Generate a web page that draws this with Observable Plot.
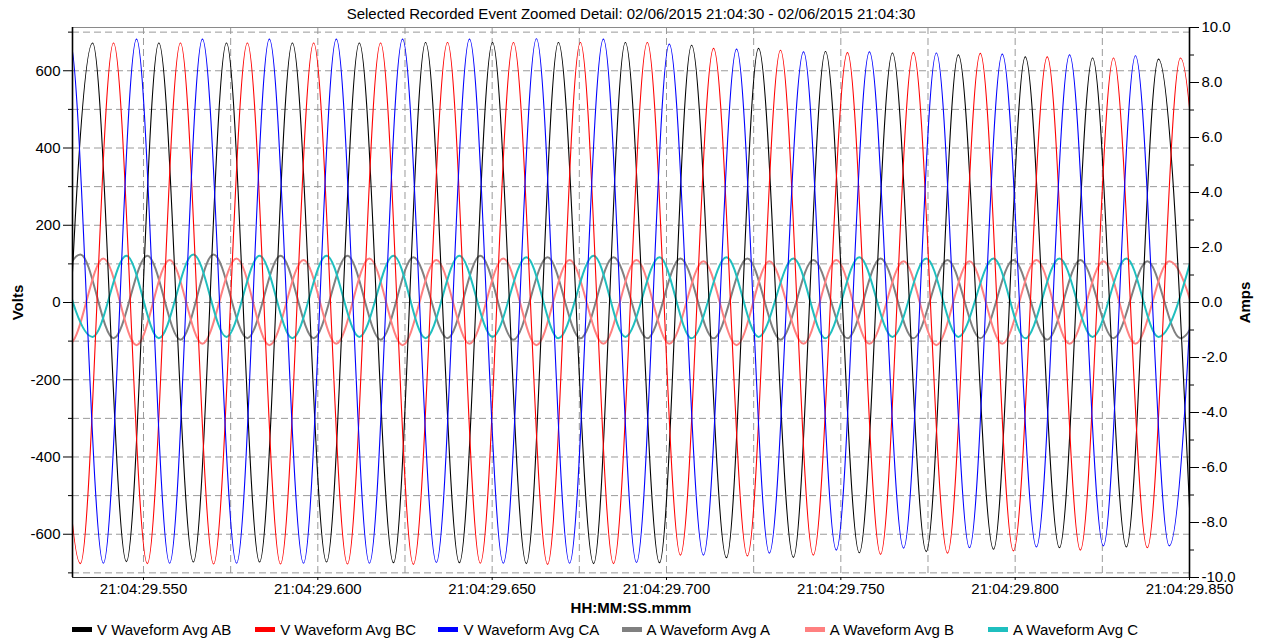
<!DOCTYPE html>
<html><head><meta charset="utf-8">
<script src="https://cdn.jsdelivr.net/npm/d3@7"></script>
<script src="https://cdn.jsdelivr.net/npm/@observablehq/plot@0.6"></script>
<style>
body{margin:0;background:#fff;font-family:"Liberation Sans",Arial,sans-serif;}
#wrap{position:relative;width:1264px;height:644px;overflow:hidden;}
#legend{position:absolute;top:620px;left:0;width:1264px;height:20px;font-size:15px;color:#000;}
.item{position:absolute;top:0;height:20px;line-height:20px;white-space:nowrap;padding-left:25px;}
.sw{position:absolute;left:0;top:7px;width:20px;height:5px;}
</style></head><body>
<div id="wrap"><div id="chart"></div><div id="legend"></div></div>
<script>
// ---- Data (time = ms after 21:04:29.000) ----
const title = "Selected Recorded Event Zoomed Detail: 02/06/2015 21:04:30 - 02/06/2015 21:04:30";
const seriesNames = ["V Waveform Avg AB","V Waveform Avg BC","V Waveform Avg CA","A Waveform Avg A","A Waveform Avg B","A Waveform Avg C"];
const seriesColors = ["#000000","#ff0000","#0000ff","#808080","#ff8080","#1fbfbf"];

// V AB: alternating trough/peak extrema
const vabT = [525.9,535.4,545.1,554.4,564.3,573.8,583.3,592.7,602.5,611.9,621.7,630.9,640.6,650.1,659.8,669.0,679.1,688.2,698.0,707.2,717.2,726.4,736.4,745.6,755.3,764.8,774.5,783.7,793.8,802.9,812.7,822.2,831.9,841.1,850.5];
const vabV = [-671,672,-671,672,-672,672,-672,672,-672,672,-674,673,-674,673,-676,673,-676,673,-674,666,-661,658,-660,650,-648,646,-645,641,-639,636,-635,633,-633,630,-630];
// V BC
const vbcT = [522.3,531.9,541.4,551.1,560.6,570.1,579.8,589.3,598.8,608.5,618.0,627.4,637.2,646.6,656.1,665.9,675.3,684.8,694.5,704.0,713.5,723.2,732.7,742.1,751.9,761.4,770.8,780.6,790.0,799.5,809.2,818.7,828.2,837.9,847.4,856.9];
const vbcV = [672,-676,672,-676,672,-677,672,-677,672,-677,672,-678,673,-675,673,-678,673,-676,673,-654,658,-656,653,-654,647,-652,647,-649,645,-643,636,-641,633,-635,633,-635];
// V CA
const vcaT = [519.3,528.8,538.5,548.0,557.5,566.9,576.7,586.1,595.9,605.3,614.8,624.3,634.0,643.5,653.2,662.7,672.2,681.9,691.4,700.8,710.6,720.1,729.5,739.3,748.7,758.2,768.0,777.4,786.9,796.3,806.1,815.6,825.3,834.5,844.2,853.7];
const vcaV = [-675,682,-675,682,-675,682,-675,682,-675,682,-675,682,-673,682,-675,683,-675,682,-673,669,-654,656,-649,649,-641,649,-636,646,-635,643,-633,641,-630,639,-630,639];

// Currents (amps): extrema fall at the same instants as the voltage extrema above
const iaT = vbcT;
const iaV = [-1.3,1.75,-1.3,1.7,-1.35,1.75,-1.3,1.7,-1.3,1.7,-1.35,1.65,-1.3,1.7,-1.35,1.65,-1.3,1.65,-1.3,1.6,-1.3,1.6,-1.35,1.55,-1.3,1.6,-1.3,1.55,-1.3,1.55,-1.35,1.55,-1.3,1.5,-1.3,1.5];
const ibT = vcaT;
const ibV = [1.55,-1.5,1.6,-1.55,1.55,-1.5,1.6,-1.55,1.55,-1.5,1.6,-1.55,1.55,-1.5,1.6,-1.55,1.55,-1.5,1.55,-1.5,1.5,-1.55,1.5,-1.5,1.55,-1.5,1.5,-1.55,1.5,-1.5,1.55,-1.5,1.5,-1.5,1.5,-1.5];
const icT = vabT;
const icV = [1.7,-1.25,1.7,-1.3,1.75,-1.25,1.7,-1.3,1.7,-1.25,1.7,-1.3,1.7,-1.25,1.65,-1.3,1.7,-1.25,1.65,-1.3,1.65,-1.25,1.6,-1.3,1.65,-1.25,1.6,-1.25,1.6,-1.3,1.6,-1.25,1.6,-1.25,1.6];

// Axes / ticks
const xDomain = [529.64, 850];
const voltDomain = [-712, 712];
const ampDomain = [-10, 10];
const timeTicks = [550,600,650,700,750,800,850];
const timeGrid = [550,575,600,625,650,675,700,725,750,775,800,825];
const voltTicks = [600,400,200,0,-200,-400,-600];
const voltMinor = [700,500,300,100,-100,-300,-500,-700];
const voltGrid = [700,600,500,400,300,200,100,0,-100,-200,-300,-400,-500,-600,-700];
const ampTicks = [10,8,6,4,2,0,-2,-4,-6,-8,-10];
const ampMinor = [9,7,5,3,1,-1,-3,-5,-7,-9];

// amps are drawn on the volt scale via the ratio of the two axis ranges
const k = voltDomain[1] / ampDomain[1];

const rows = (T, V, f = 1) => T.map((t, i) => ({t, v: V[i] == null ? NaN : V[i] * f})).filter(d => !isNaN(d.v));

const volts = [[vabT,vabV],[vbcT,vbcV],[vcaT,vcaV]];
const amps = [[iaT,iaV],[ibT,ibV],[icT,icV]];

const gridStyle = {stroke: "#9a9a9a", strokeWidth: 1, strokeDasharray: "7,4"};

const chart = Plot.plot({
  width: 1264, height: 618,
  marginTop: 27, marginLeft: 72, marginRight: 75, marginBottom: 41,
  style: {fontFamily: "'Liberation Sans', Arial, sans-serif", fontSize: "15px", background: "white", color: "#000", overflow: "visible"},
  x: {domain: xDomain},
  y: {domain: voltDomain},
  marks: [
    Plot.ruleY(voltGrid, gridStyle),
    Plot.ruleX(timeGrid, gridStyle),
    Plot.ruleY([voltDomain[1]], {stroke: "#8a8a8a"}),
    ...amps.map(([T, V], i) => Plot.line(rows(T, V, k), {x: "t", y: "v", stroke: seriesColors[3 + i], strokeWidth: 2, curve: "monotone-x", clip: true})),
    ...volts.map(([T, V], i) => Plot.line(rows(T, V), {x: "t", y: "v", stroke: seriesColors[i], strokeWidth: 1.1, curve: "monotone-x", clip: true})),
    Plot.ruleX([xDomain[0]], {stroke: "#000", strokeWidth: 1.6}),
    Plot.ruleX([xDomain[1]], {stroke: "#000", strokeWidth: 1.6}),
    Plot.ruleY([voltDomain[0]], {stroke: "#333", strokeWidth: 1}),
    Plot.axisY(voltTicks, {anchor: "left", tickSize: 9, tickPadding: 3, label: null, tickFormat: d => String(d)}),
    Plot.axisY(voltMinor, {anchor: "left", tickSize: 4, label: null, tickFormat: () => ""}),
    Plot.axisY(ampTicks.map(a => a * k), {anchor: "right", tickSize: 9, tickPadding: 3, label: null, tickFormat: d => (Math.round(d / k * 10) / 10).toFixed(1)}),
    Plot.axisY(ampMinor.map(a => a * k), {anchor: "right", tickSize: 4, label: null, tickFormat: () => ""}),
    Plot.axisX(timeTicks, {anchor: "bottom", tickSize: 3, tickPadding: 3, label: null, tickFormat: d => "21:04:29." + d}),
    Plot.text([title], {frameAnchor: "top", dy: -13, lineAnchor: "middle", textAnchor: "middle", text: d => d, fontSize: 15}),
    Plot.text(["Volts"], {frameAnchor: "left", dx: -54, rotate: -90, textAnchor: "middle", lineAnchor: "middle", text: d => d, fontSize: 15, fontWeight: "bold"}),
    Plot.text(["Amps"], {frameAnchor: "right", dx: 56, rotate: -90, textAnchor: "middle", lineAnchor: "middle", text: d => d, fontSize: 15, fontWeight: "bold"}),
    Plot.text(["HH:MM:SS.mmm"], {frameAnchor: "bottom", dy: 31, lineAnchor: "middle", textAnchor: "middle", text: d => d, fontSize: 15, fontWeight: "bold"})
  ]
});
document.getElementById("chart").appendChild(chart);

const legend = document.getElementById("legend");
seriesNames.forEach((name, i) => {
  const item = document.createElement("div");
  item.className = "item";
  item.style.left = (72 + i * 183.2) + "px";
  const sw = document.createElement("span");
  sw.className = "sw";
  sw.style.background = seriesColors[i];
  item.appendChild(sw);
  item.appendChild(document.createTextNode(name));
  legend.appendChild(item);
});
</script>
</body></html>
